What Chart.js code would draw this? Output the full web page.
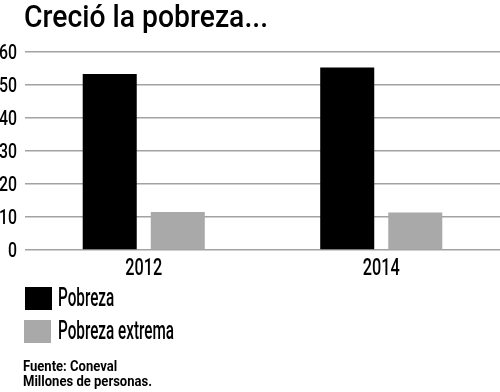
<!DOCTYPE html>
<html>
<head>
<meta charset="utf-8">
<script src="https://cdn.jsdelivr.net/npm/chart.js@4"></script>
<style>
  body { margin: 0; background: #fff; }
  #wrap { position: relative; width: 500px; height: 392px; overflow: hidden;
          font-family: Roboto, "Noto Sans", sans-serif; color: #000; }
  #chart { position: absolute; left: 0; top: 0; }
  .txt { position: absolute; white-space: nowrap; line-height: 1; transform-origin: 0 0; }
  #title { left: 24px; top: 0px; font-size: 32px; font-weight: 500; }
  .legtxt { font-size: 25px; font-weight: 500; }
  .box { position: absolute; width: 27px; height: 23px; }
  .src { font-size: 15px; font-weight: 700; line-height: 15px; left: 23px; }
</style>
</head>
<body>
<div id="wrap">
  <canvas id="chart" width="500" height="392"></canvas>
  <div id="title" class="txt">Creció la pobreza...</div>
  <div id="legend"></div>
  <div id="src1" class="txt src" style="top:359px">Fuente: Coneval</div>
  <div id="src2" class="txt src" style="top:374px">Millones de personas.</div>
</div>
<script>
const categories = ['2012', '2014'];
const pobreza = [53.3, 55.3];
const pobrezaExtrema = [11.5, 11.4];
const seriesNames = ['Pobreza', 'Pobreza extrema'];
const seriesColors = ['#000000', '#a9a9a9'];
const yMin = 0, yMax = 60, yStep = 10;

// squeeze an element horizontally so it takes the given width (condensed type)
function fitWidth(el, width) {
    el.style.transform = '';
    const w = el.getBoundingClientRect().width;
    el.style.transform = 'scaleX(' + (width / w) + ')';
}

// tick labels drawn in a narrow face, positions taken from the chart scales
const condensedTicks = {
    id: 'condensedTicks',
    afterDraw(chart) {
        const ctx = chart.ctx;
        const xs = chart.scales.x, ys = chart.scales.y;
        ctx.save();
        ctx.fillStyle = '#000';
        ctx.textBaseline = 'alphabetic';

        ctx.font = '500 20px Roboto';
        const sy = 18 / ctx.measureText('60').width;
        ctx.textAlign = 'right';
        ys.ticks.forEach((t, i) => {
            ctx.save();
            ctx.translate(17, ys.getPixelForTick(i) + 7);
            ctx.scale(sy, 1);
            ctx.fillText(t.label, 0, 0);
            ctx.restore();
        });

        ctx.font = '500 24px Roboto';
        const sx = 37 / ctx.measureText('2012').width;
        ctx.textAlign = 'center';
        xs.ticks.forEach((t, i) => {
            ctx.save();
            ctx.translate(xs.getPixelForTick(i), 275);
            ctx.scale(sx, 1);
            ctx.fillText(xs.getLabelForValue(t.value), 0, 0);
            ctx.restore();
        });
        ctx.restore();
    }
};

const chart = new Chart(document.getElementById('chart'), {
    type: 'bar',
    data: {
        labels: categories,
        datasets: [
            { label: seriesNames[0], data: pobreza, backgroundColor: seriesColors[0] },
            { label: seriesNames[1], data: pobrezaExtrema, backgroundColor: seriesColors[1] }
        ]
    },
    options: {
        responsive: false,
        animation: false,
        categoryPercentage: 0.573,
        barPercentage: 0.794,
        layout: { padding: { top: 52, right: 0, bottom: 0, left: 0 } },
        plugins: {
            legend: { display: false },
            tooltip: { enabled: false }
        },
        scales: {
            x: {
                grid: { display: false, drawTicks: false },
                border: { display: false },
                ticks: { display: false },
                afterFit: s => { s.height = 142; }
            },
            y: {
                min: yMin,
                max: yMax,
                grid: { color: '#a2a2a2', lineWidth: 1.6, drawTicks: false },
                border: { display: false },
                ticks: { stepSize: yStep, display: false },
                afterFit: s => { s.width = 25; }
            }
        }
    },
    plugins: [condensedTicks]
});

// legend from the datasets, stacked one per row
const legend = document.getElementById('legend');
const legendTops = [287, 320];
chart.data.datasets.forEach((ds, i) => {
    const box = document.createElement('div');
    box.className = 'box';
    box.style.left = (i === 0 ? 25 : 24) + 'px';
    box.style.top = legendTops[i] + 'px';
    box.style.background = ds.backgroundColor;
    legend.appendChild(box);
    const t = document.createElement('div');
    t.className = 'txt legtxt';
    t.style.left = '58px';
    t.style.top = (legendTops[i] - 2) + 'px';
    t.textContent = ds.label;
    legend.appendChild(t);
});

const legTexts = legend.querySelectorAll('.legtxt');
const legScale = 116 / legTexts[1].getBoundingClientRect().width;
legTexts.forEach(t => { t.style.transform = 'scaleX(' + legScale + ')'; });
fitWidth(document.getElementById('title'), 244);
const srcScale = 129 / document.getElementById('src2').getBoundingClientRect().width;
document.getElementById('src1').style.transform = 'scaleX(' + srcScale + ')';
document.getElementById('src2').style.transform = 'scaleX(' + srcScale + ')';
</script>
</body>
</html>
